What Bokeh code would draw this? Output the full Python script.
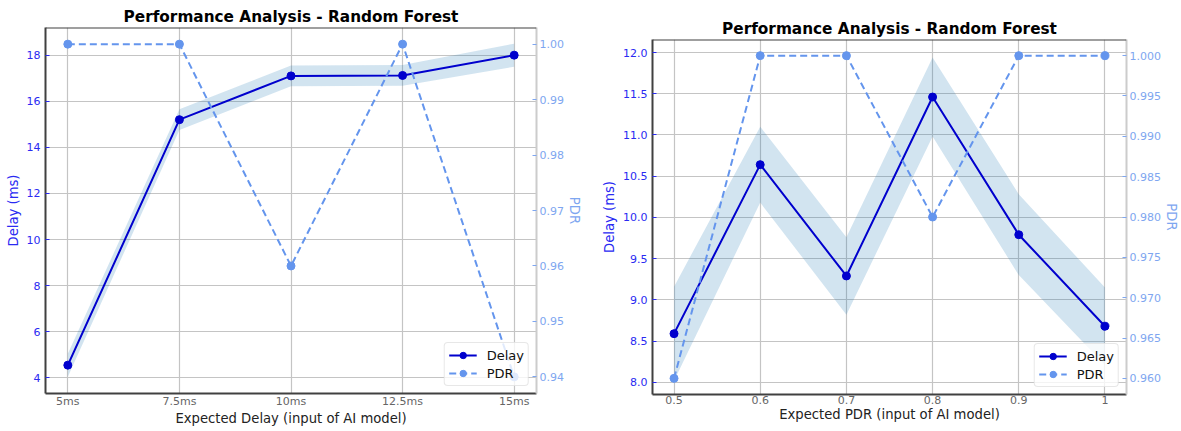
import numpy as np
from bokeh.plotting import figure
from bokeh.models import (Range1d, LinearAxis, FixedTicker, Legend, LegendItem, Span,
                          NumeralTickFormatter, CustomJSTickFormatter)
from bokeh.embed import file_html
from bokeh.resources import INLINE

# ---------------- data ----------------
delay_inputs = ["5ms", "7.5ms", "10ms", "12.5ms", "15ms"]
delay_delay = [4.55, 15.2, 17.1, 17.12, 18.0]
delay_std = [0.5, 0.45, 0.45, 0.45, 0.5]
delay_pdr = [1.0, 1.0, 0.96, 1.0, 0.94]
delay_yticks = [4, 6, 8, 10, 12, 14, 16, 18]
delay_pticks = [0.94, 0.95, 0.96, 0.97, 0.98, 0.99, 1.00]

pdr_inputs = [0.5, 0.6, 0.7, 0.8, 0.9, 1.0]
pdr_delay = [8.59, 10.64, 9.29, 11.46, 9.79, 8.68]
pdr_std = [0.57, 0.46, 0.47, 0.48, 0.49, 0.47]
pdr_pdr = [0.96, 1.0, 1.0, 0.98, 1.0, 1.0]
pdr_yticks = [8.0, 8.5, 9.0, 9.5, 10.0, 10.5, 11.0, 11.5, 12.0]
pdr_pticks = [0.960, 0.965, 0.970, 0.975, 0.980, 0.985, 0.990, 0.995, 1.000]

TITLE = "Performance Analysis - Random Forest"
FONT = "DejaVu Sans"
DELAY_C = "#0000CD"
DELAY_TXT = "#2a2af2"
PDR_C = "#6495ED"
PDR_TXT = "#7ea6f0"
BAND_C = "#1f77b4"
GRID_C = "#c4c4c4"
SPINE_C = "#404040"


def panel(x, xlabels_js, delay, std, pdr, xr, yr, pr, yticks, yfmt, pticks, pfmt,
          xlabel, width, height, bl, br, bt, bb, tstand):
    x = np.asarray(x, dtype=float)
    delay = np.asarray(delay, dtype=float)
    std = np.asarray(std, dtype=float)
    p = figure(width=width, height=height, x_range=Range1d(*xr), y_range=Range1d(*yr),
               output_backend="svg", toolbar_location=None, title=TITLE,
               min_border_left=bl, min_border_right=br, min_border_top=bt,
               min_border_bottom=bb)
    p.extra_y_ranges = {"pdr": Range1d(*pr)}
    p.outline_line_color = None
    p.background_fill_color = "white"
    p.border_fill_color = "white"

    p.title.text_font = FONT
    p.title.text_font_size = "15.3px"
    p.title.text_font_style = "bold"
    p.title.text_color = "black"
    p.title.align = "center"
    p.title.standoff = tstand

    # bottom axis
    xa = p.xaxis[0]
    xa.ticker = FixedTicker(ticks=list(x))
    xa.formatter = xlabels_js
    xa.axis_label = xlabel
    xa.axis_label_text_font = FONT
    xa.axis_label_text_font_size = "13.2px"
    xa.axis_label_text_font_style = "normal"
    xa.axis_label_text_color = "#222222"
    xa.axis_label_standoff = 0
    xa.major_label_text_font = FONT
    xa.major_label_text_font_size = "11px"
    xa.major_label_text_color = "#666666"
    xa.major_label_standoff = 1
    xa.major_tick_in = 0
    xa.major_tick_out = 0
    xa.minor_tick_line_color = None
    xa.axis_line_color = SPINE_C
    xa.axis_line_width = 2

    # left axis
    ya = p.yaxis[0]
    ya.ticker = FixedTicker(ticks=yticks)
    ya.formatter = NumeralTickFormatter(format=yfmt)
    ya.axis_label = "Delay (ms)"
    ya.axis_label_text_font = FONT
    ya.axis_label_text_font_size = "13.2px"
    ya.axis_label_text_font_style = "normal"
    ya.axis_label_text_color = DELAY_TXT
    ya.axis_label_standoff = 3
    ya.major_label_text_font = FONT
    ya.major_label_text_font_size = "11px"
    ya.major_label_text_color = DELAY_TXT
    ya.major_label_standoff = 5
    ya.major_tick_in = 4
    ya.major_tick_out = 0
    ya.major_tick_line_color = DELAY_TXT
    ya.minor_tick_line_color = None
    ya.axis_line_color = SPINE_C
    ya.axis_line_width = 2

    # right axis (PDR)
    ra = LinearAxis(y_range_name="pdr", ticker=FixedTicker(ticks=pticks),
                    formatter=NumeralTickFormatter(format=pfmt))
    ra.axis_label = "PDR"
    ra.axis_label_text_font = FONT
    ra.axis_label_text_font_size = "13.2px"
    ra.axis_label_text_font_style = "normal"
    ra.axis_label_text_color = PDR_TXT
    ra.axis_label_standoff = 0
    ra.major_label_text_font = FONT
    ra.major_label_text_font_size = "11px"
    ra.major_label_text_color = PDR_TXT
    ra.major_label_standoff = 3
    ra.major_tick_in = 4
    ra.major_tick_out = 0
    ra.major_tick_line_color = PDR_TXT
    ra.minor_tick_line_color = None
    ra.axis_line_color = "#cccccc"
    ra.axis_line_width = 2
    p.add_layout(ra, "right")

    # top spine
    p.add_layout(Span(location=yr[1], dimension="width", line_color=SPINE_C, line_width=2))

    # grids
    p.xgrid[0].ticker = FixedTicker(ticks=list(x))
    p.ygrid[0].ticker = FixedTicker(ticks=yticks)
    for g in (p.xgrid[0], p.ygrid[0]):
        g.grid_line_color = GRID_C
        g.grid_line_width = 1.2

    # data
    p.varea(x=x, y1=delay - std, y2=delay + std, fill_color=BAND_C, fill_alpha=0.2)
    l1 = p.line(x, delay, line_color=DELAY_C, line_width=2)
    s1 = p.scatter(x, delay, size=8, fill_color=DELAY_C, line_color=DELAY_C)
    l2 = p.line(x, pdr, line_color=PDR_C, line_width=2, line_dash="7 4", y_range_name="pdr")
    s2 = p.scatter(x, pdr, size=8, fill_color=PDR_C, line_color=PDR_C, y_range_name="pdr")

    leg = Legend(items=[LegendItem(label="Delay", renderers=[l1, s1]),
                        LegendItem(label="PDR", renderers=[l2, s2])],
                 location="bottom_right")
    leg.label_text_font = FONT
    leg.label_text_font_size = "13px"
    leg.label_text_color = "#111111"
    leg.glyph_width = 28
    leg.glyph_height = 16
    leg.spacing = 2
    leg.padding = 4
    leg.margin = 7
    leg.label_standoff = 10
    leg.border_line_color = "#d0d0d0"
    leg.border_line_width = 1
    leg.border_radius = 4
    leg.background_fill_alpha = 0.8
    p.add_layout(leg)
    return p


left_fmt = CustomJSTickFormatter(args=dict(labels=delay_inputs),
                                 code="return labels[Math.round(tick)] || '';")
right_fmt = CustomJSTickFormatter(code="return String(Math.round(tick * 10) / 10);")

n = len(delay_inputs)
p1 = panel(list(range(n)), left_fmt, delay_delay, delay_std, delay_pdr,
           (-0.2, n - 1 + 0.2), (3.32, 19.2), (0.937, 1.003),
           delay_yticks, "0", delay_pticks, "0.00",
           "Expected Delay (input of AI model)", 596, 431, 45, 60, 27, 38, 4)

p2 = panel(pdr_inputs, right_fmt, pdr_delay, pdr_std, pdr_pdr,
           (0.475, 1.025), (7.852, 12.158), (0.958, 1.002),
           pdr_yticks, "0.0", pdr_pticks, "0.000",
           "Expected PDR (input of AI model)", 585, 431, 56, 53, 39, 37, 3)

# two independent roots side by side (so that their frames are not aligned);
# bokeh prepends "{% extends base %}" to a string template itself
TEMPLATE = """{% from macros import embed %}
{% block contents %}
<div style="display: flex; flex-direction: row; align-items: flex-start;">
{% for doc in docs %}{% for root in doc.roots %}
{{ embed(root) }}
{% endfor %}{% endfor %}
</div>
{% endblock %}
"""

open("out.html", "w").write(file_html([p1, p2], INLINE, template=TEMPLATE))
